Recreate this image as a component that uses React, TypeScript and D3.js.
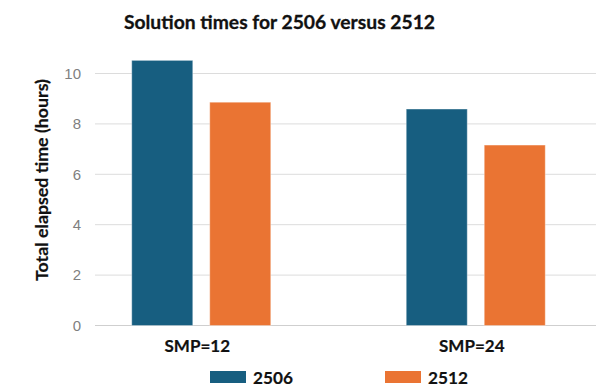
import * as d3 from 'd3'

const categories = ['SMP=12', 'SMP=24']
const seriesNames = ['2506', '2512']
const values2506 = [10.52, 8.59]
const values2512 = [8.86, 7.16]
const yTicks = [0, 2, 4, 6, 8, 10]

const colors = ['#175e80', '#ea7433']
const W = 605
const H = 392

export default function App() {
  const y = d3.scaleLinear().domain([0, 10]).range([325.5, 73.5])
  const x0 = d3.scaleBand().domain(categories).range([64, 613]).padding(0)
  const groupW = 139
  const x1 = d3.scaleBand().domain(seriesNames)
    .range([(x0.bandwidth() - groupW) / 2, (x0.bandwidth() + groupW) / 2])
    .paddingInner(17 / 78)
  const series = [values2506, values2512]
  const font = 'Lato, "Open Sans", sans-serif'

  return (
    <svg width={W} height={H} style={{ position: 'absolute', left: 0, top: 0, background: '#fff' }}>
      <text x={279.5} y={29} textAnchor="middle" fontFamily={font} fontWeight="bold" fontSize={19.3} fill="#111" stroke="#111" strokeWidth={0.3}>
        Solution times for 2506 versus 2512
      </text>
      {yTicks.map(t => (
        <g key={t}>
          <line x1={95} x2={596} y1={y(t)} y2={y(t)} stroke={t === 0 ? '#cfcfcf' : '#dcdcdc'} strokeWidth={1} />
          <text x={81} y={y(t)} dy="0.35em" textAnchor="end" fontFamily='"Liberation Sans", Arial, sans-serif' fontSize={15} fill="#7f7f7f">{t}</text>
        </g>
      ))}
      {categories.map((c, i) => (
        <g key={c} transform={`translate(${x0(c)},0)`}>
          {seriesNames.map((s, j) => (
            <rect key={s} x={x1(s)} y={y(series[j][i])} width={x1.bandwidth()} height={y(0) - y(series[j][i])}
              fill={colors[j]} stroke="rgba(255,255,255,0.35)" strokeWidth={1} />
          ))}
          <text x={x0.bandwidth() / 2 - 4} y={346} dy="0.35em" textAnchor="middle" fontFamily={font} fontWeight="bold" fontSize={17} fill="#111" stroke="#111" strokeWidth={0.2}>{c}</text>
        </g>
      ))}
      <text transform="translate(41.5,180) rotate(-90)" textAnchor="middle" dy="0.35em" fontFamily={font} fontWeight="bold" fontSize={17.8} fill="#111" stroke="#111" strokeWidth={0.2}>
        Total elapsed time (hours)
      </text>
      {seriesNames.map((s, j) => (
        <g key={s} transform={`translate(${j === 0 ? 210 : 385},371)`}>
          <rect width={36} height={12} fill={colors[j]} />
          <text x={43} y={7} dy="0.35em" fontFamily={font} fontWeight="bold" fontSize={17.2} fill="#111" stroke="#111" strokeWidth={0.2}>{s}</text>
        </g>
      ))}
    </svg>
  )
}
